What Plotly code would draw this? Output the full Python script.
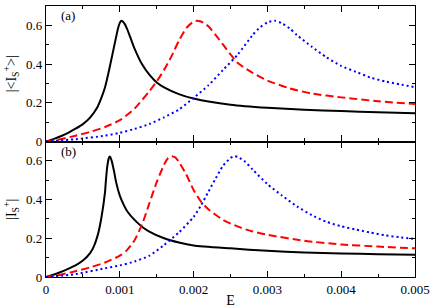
import plotly.graph_objects as go

# ---- data ----
# panel (a): |<I_S^+>|
E_a_black = [0, 0.0001, 0.0002, 0.0003, 0.0004, 0.0005, 0.0006, 0.0007, 0.00075, 0.0008, 0.00085,
             0.0009, 0.00095, 0.00098, 0.001, 0.00102, 0.00104, 0.00107, 0.0011, 0.00115, 0.0012,
             0.0013, 0.0014, 0.0015, 0.0016, 0.0018, 0.002, 0.0025, 0.003, 0.0035, 0.004, 0.0045, 0.005]
v_a_black = [0, 0.012, 0.027, 0.045, 0.066, 0.09, 0.125, 0.18, 0.225, 0.28, 0.36,
             0.45, 0.54, 0.59, 0.613, 0.624, 0.62, 0.605, 0.58, 0.53, 0.48,
             0.40, 0.345, 0.305, 0.28, 0.245, 0.222, 0.19, 0.174, 0.164, 0.157, 0.151, 0.146]

E_a_red = [0, 0.0002, 0.0004, 0.0006, 0.0008, 0.001, 0.0012, 0.0014, 0.0015, 0.0016, 0.0017,
           0.0018, 0.0019, 0.002, 0.00205, 0.0021, 0.0022, 0.0023, 0.0024, 0.0025, 0.0026,
           0.0028, 0.003, 0.0033, 0.0036, 0.004, 0.0045, 0.005]
v_a_red = [0, 0.012, 0.03, 0.05, 0.075, 0.11, 0.17, 0.26, 0.31, 0.37, 0.44,
           0.52, 0.585, 0.62, 0.624, 0.62, 0.595, 0.55, 0.50, 0.45, 0.405,
           0.355, 0.315, 0.275, 0.248, 0.228, 0.208, 0.194]

E_a_blue = [0, 0.0004, 0.0008, 0.001, 0.0012, 0.0014, 0.0016, 0.0018, 0.002, 0.0022, 0.0024,
            0.0026, 0.0028, 0.0029, 0.003, 0.0031, 0.0032, 0.0033, 0.0034, 0.0036, 0.0038,
            0.004, 0.0042, 0.0044, 0.0046, 0.0048, 0.005]
v_a_blue = [0, 0.012, 0.03, 0.045, 0.065, 0.09, 0.125, 0.165, 0.225, 0.29, 0.37,
            0.45, 0.55, 0.59, 0.615, 0.624, 0.61, 0.585, 0.55, 0.49, 0.435,
            0.39, 0.36, 0.33, 0.31, 0.295, 0.28]

# panel (b): |I_S^+|
E_b_black = [0, 0.0001, 0.0002, 0.0003, 0.0004, 0.0005, 0.0006, 0.00065, 0.0007, 0.00075, 0.0008,
             0.00081, 0.00083, 0.00085, 0.00086, 0.00087, 0.00089, 0.00092, 0.00095, 0.001, 0.00105,
             0.0011, 0.0012, 0.0013, 0.0014, 0.0016, 0.0018, 0.002, 0.0025, 0.003, 0.0035, 0.004,
             0.0045, 0.005]
v_b_black = [0, 0.012, 0.026, 0.042, 0.06, 0.085, 0.125, 0.16, 0.215, 0.305, 0.44,
             0.49, 0.57, 0.613, 0.622, 0.62, 0.6, 0.55, 0.49, 0.42, 0.375,
             0.34, 0.295, 0.26, 0.235, 0.2, 0.178, 0.163, 0.148, 0.135, 0.127, 0.122,
             0.118, 0.115]

E_b_red = [0, 0.0002, 0.0004, 0.0006, 0.0008, 0.001, 0.0011, 0.0012, 0.0013, 0.0014, 0.0015,
           0.0016, 0.00165, 0.0017, 0.00175, 0.0018, 0.0019, 0.002, 0.0021, 0.0022, 0.0024, 0.0026,
           0.0028, 0.003, 0.0035, 0.004, 0.0045, 0.005]
v_b_red = [0, 0.012, 0.03, 0.05, 0.075, 0.11, 0.14, 0.19, 0.27, 0.38, 0.49,
           0.58, 0.612, 0.624, 0.618, 0.595, 0.53, 0.45, 0.39, 0.35, 0.295, 0.26,
           0.235, 0.218, 0.187, 0.168, 0.157, 0.148]

E_b_blue = [0, 0.0004, 0.0008, 0.001, 0.0012, 0.0014, 0.0016, 0.0018, 0.002, 0.0021, 0.0022,
            0.0023, 0.0024, 0.0025, 0.00255, 0.0026, 0.0027, 0.0028, 0.003, 0.0032, 0.0034,
            0.0036, 0.0038, 0.004, 0.0042, 0.0044, 0.0046, 0.0048, 0.005]
v_b_blue = [0, 0.015, 0.045, 0.06, 0.08, 0.11, 0.165, 0.23, 0.31, 0.37, 0.44,
            0.51, 0.575, 0.615, 0.624, 0.62, 0.595, 0.555, 0.48, 0.42, 0.365,
            0.32, 0.285, 0.262, 0.245, 0.229, 0.215, 0.205, 0.197]

x_ticks = [0, 0.001, 0.002, 0.003, 0.004, 0.005]
x_tick_text = ["0", "0.001", "0.002", "0.003", "0.004", "0.005"]
y_ticks = [0, 0.2, 0.4, 0.6]
y_tick_text = ["0", "0.2", "0.4", "0.6"]

FONT = "Liberation Serif, Times New Roman, DejaVu Serif, serif"

fig = go.Figure()

def add(E, v, color, dash, xa, ya, width=2):
    fig.add_trace(go.Scatter(x=E, y=v, mode="lines", xaxis=xa, yaxis=ya,
                             line=dict(color=color, width=width, dash=dash, shape="spline", smoothing=0.6),
                             showlegend=False, hoverinfo="skip"))

add(E_a_black, v_a_black, "black", "solid", "x", "y")
add(E_a_red, v_a_red, "#ff0000", "8px,4px", "x", "y")
add(E_a_blue, v_a_blue, "#0000ff", "2px,3px", "x", "y")
add(E_b_black, v_b_black, "black", "solid", "x2", "y2")
add(E_b_red, v_b_red, "#ff0000", "8px,4px", "x2", "y2")
add(E_b_blue, v_b_blue, "#0000ff", "2px,3px", "x2", "y2")

common_x = dict(range=[0, 0.005], tickvals=x_ticks, ticktext=x_tick_text,
                ticks="inside", ticklen=6, tickwidth=1, tickcolor="black",
                showline=True, linecolor="black", linewidth=1.3, mirror="allticks",
                showgrid=False, zeroline=False, automargin=False,
                minor=dict(dtick=0.0005, ticks="inside", ticklen=3, tickcolor="black", showgrid=False),
                tickfont=dict(family=FONT, size=13, color="black"))
common_y = dict(range=[0, 0.7], tickvals=y_ticks, ticktext=y_tick_text,
                ticks="inside", ticklen=6, tickwidth=1, tickcolor="black",
                showline=True, linecolor="black", linewidth=1.3, mirror="allticks",
                showgrid=False, zeroline=False, automargin=False,
                minor=dict(dtick=0.1, ticks="inside", ticklen=3, tickcolor="black", showgrid=False),
                tickfont=dict(family=FONT, size=13, color="black"))

fig.update_layout(
    width=436, height=308,
    margin=dict(l=46, r=21, t=6, b=31),
    paper_bgcolor="white", plot_bgcolor="white",
    font=dict(family=FONT, size=13, color="black"),
    xaxis=dict(common_x, domain=[0, 1], anchor="y", showticklabels=False),
    yaxis=dict(common_y, domain=[0.5, 1], anchor="x",
               title=dict(text="|&lt;I<sub>S</sub><sup>+</sup>&gt;|", standoff=6,
                          font=dict(family=FONT, size=14))),
    xaxis2=dict(common_x, domain=[0, 1], anchor="y2",
                title=dict(text="E", standoff=2, font=dict(family=FONT, size=14))),
    yaxis2=dict(common_y, domain=[0, 0.5], anchor="x2",
                title=dict(text="|I<sub>S</sub><sup>+</sup>|", standoff=6,
                           font=dict(family=FONT, size=14))),
    annotations=[
        dict(text="(a)", x=0.0003, y=0.65, xref="x", yref="y", showarrow=False,
             font=dict(family=FONT, size=13, color="black")),
        dict(text="(b)", x=0.0003, y=0.65, xref="x2", yref="y2", showarrow=False,
             font=dict(family=FONT, size=13, color="black")),
    ],
)

fig.write_html("out.html", config={"displayModeBar": False},
               post_script="document.body.style.margin='0';document.body.style.padding='0';")
